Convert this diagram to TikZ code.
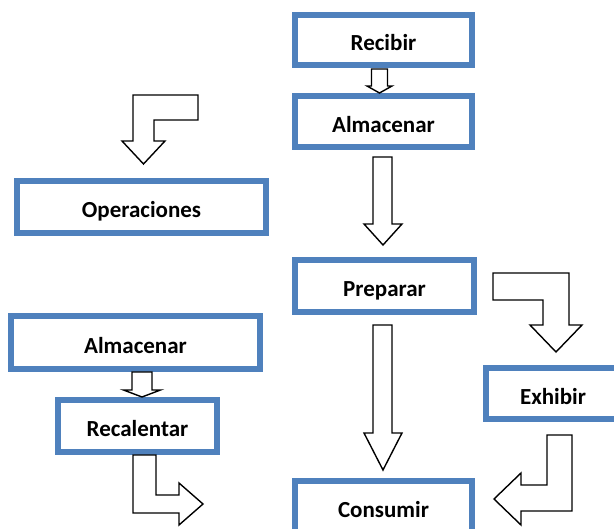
\documentclass[tikz,border=0pt]{standalone}
\usepackage{fontspec}
\setmainfont{Carlito}
\definecolor{boxblue}{HTML}{4F81BD}
\tikzset{
  procbox/.style={draw=boxblue, line width=6pt, fill=white, rectangle,
    inner sep=0pt, text height=22pt, text depth=0pt,
    font=\fontsize{23}{27}\selectfont\bfseries},
  blockarrow/.style={draw=black, line width=1.4pt, fill=white, line join=miter}
}
\begin{document}
\begin{tikzpicture}[x=1pt, y=-1pt]
  \useasboundingbox (0,0) rectangle (614,529);
  \clip (0,0) rectangle (614,529);

  % process boxes
  \node[procbox, minimum width=177pt, minimum height=50pt] (recibir) at (383.5,40) {Recibir};
  \node[procbox, minimum width=177pt, minimum height=51pt] (almacenarA) at (383.5,121.5) {Almacenar};
  \node[procbox, minimum width=249pt, minimum height=52pt] (operaciones) at (141.5,207) {Operaciones};
  \node[procbox, minimum width=179pt, minimum height=52pt] (preparar) at (384.5,286) {Preparar};
  \node[procbox, minimum width=177pt, minimum height=51pt] (consumir) at (383.5,506.5) {Consumir};
  \node[procbox, minimum width=249pt, minimum height=53pt] (almacenarB) at (135.5,342.5) {Almacenar};
  \node[procbox, minimum width=159pt, minimum height=52pt] (recalentar) at (137.5,426) {Recalentar};
  \node[procbox, minimum width=134pt, minimum height=51pt] (exhibir) at (553,393.5) {Exhibir};

  % straight block arrows
  \draw[blockarrow] (371.5,69) -- (387.5,69) -- (387.5,86) -- (392,86) -- (379.5,93)
    -- (367,86) -- (371.5,86) -- cycle;
  \draw[blockarrow] (373,157) -- (392,157) -- (392,224) -- (402,224) -- (383,245)
    -- (364,224) -- (373,224) -- cycle;
  \draw[blockarrow] (373,325) -- (392,325) -- (392,433) -- (402,433) -- (383,470)
    -- (364,433) -- (373,433) -- cycle;
  \draw[blockarrow] (132,372) -- (152,372) -- (152,390) -- (160.5,390) -- (142,397)
    -- (123.5,390) -- (132,390) -- cycle;

  % bent block arrows
  \draw[blockarrow] (198,95) -- (133,95) -- (133,141) -- (122,141) -- (143.5,164)
    -- (165,141) -- (154,141) -- (154,120) -- (198,120) -- cycle;
  \draw[blockarrow] (493,273) -- (569,273) -- (569,325) -- (582,325) -- (556,352)
    -- (530,325) -- (543,325) -- (543,300) -- (493,300) -- cycle;
  \draw[blockarrow] (572,435) -- (547,435) -- (547,485) -- (521,485) -- (521,473)
    -- (494,499) -- (521,525) -- (521,511) -- (572,511) -- cycle;
  \draw[blockarrow] (133,455) -- (156,455) -- (156,495) -- (179,495) -- (179,483)
    -- (203,504) -- (179,525) -- (179,513) -- (133,513) -- cycle;
\end{tikzpicture}
\end{document}
